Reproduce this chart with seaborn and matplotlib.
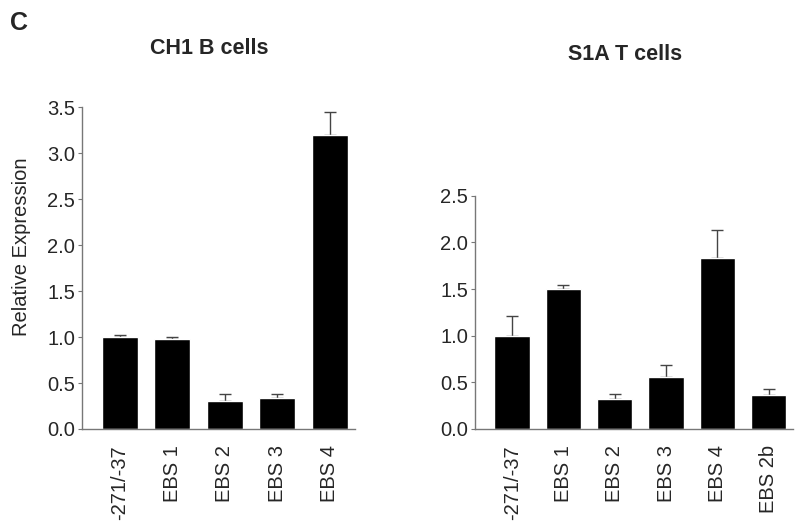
import numpy as np
import pandas as pd
import matplotlib
matplotlib.use("Agg")
import matplotlib.pyplot as plt
import seaborn as sns

# CH1 B cells
b_labels = ["-271/-37", "EBS 1", "EBS 2", "EBS 3", "EBS 4"]
b_values = [1.0, 0.98, 0.30, 0.34, 3.20]
b_errors = [0.02, 0.015, 0.08, 0.045, 0.25]

# S1A T cells
t_labels = ["-271/-37", "EBS 1", "EBS 2", "EBS 3", "EBS 4", "EBS 2b"]
t_values = [1.0, 1.50, 0.32, 0.56, 1.83, 0.36]
t_errors = [0.21, 0.04, 0.06, 0.13, 0.30, 0.07]

sns.set_style("white")
plt.rcParams['font.family'] = ['Liberation Sans', 'DejaVu Sans']

fig = plt.figure(figsize=(8, 5.25), dpi=100)
ax1 = fig.add_axes([0.1025, 0.1829, 0.3413, 0.613])
ax2 = fig.add_axes([0.594, 0.1829, 0.3975, 0.444])


def draw_panel(ax, labels, values, errors, ymax, xmax):
    df = pd.DataFrame({"label": labels, "value": values})
    sns.barplot(data=df, x="label", y="value", color="black", width=0.69,
                saturation=1, ax=ax, zorder=2)
    x = np.arange(len(labels))
    ax.errorbar(x, values, yerr=[np.zeros(len(errors)), errors], fmt="none",
                ecolor="#444444", elinewidth=1, capsize=4, capthick=1, zorder=1)
    ax.set_ylim(0, ymax)
    ax.set_xlim(-0.72, xmax)
    yt = np.arange(0, ymax + 0.01, 0.5)
    ax.set_yticks(yt)
    ax.set_yticklabels([f"{v:.1f}" for v in yt])
    ax.set_xticks(x)
    ax.set_xticklabels(labels, rotation=90)
    ax.set_xlabel("")
    ax.set_ylabel("")
    sns.despine(ax=ax)
    for s in ["left", "bottom"]:
        ax.spines[s].set_color("#777777")
        ax.spines[s].set_linewidth(1)
    ax.tick_params(axis="y", left=True, length=3, width=0.8, color="#777777",
                   labelsize=14.5, pad=2)
    ax.tick_params(axis="x", bottom=False, labelsize=14.5, pad=8)


draw_panel(ax1, b_labels, b_values, b_errors, 3.5, 4.48)
draw_panel(ax2, t_labels, t_values, t_errors, 2.5, 5.48)

fig.text(209 / 800, 1 - 48 / 525, "CH1 B cells", fontsize=15.5, fontweight="bold",
         ha="center", va="center")
fig.text(625 / 800, 1 - 54 / 525, "S1A T cells", fontsize=15.5, fontweight="bold",
         ha="center", va="center")

ax1.set_ylabel("Relative Expression", fontsize=14.5)
ax1.yaxis.set_label_coords(22 / 800, 1 - 247 / 525, transform=fig.transFigure)
ax1.yaxis.label.set_va("center")

fig.text(10 / 800, 1 - 23 / 525, "C", fontsize=18, fontweight="bold",
         va="center", ha="left")

fig.savefig("out.png", dpi=100, facecolor="white")
